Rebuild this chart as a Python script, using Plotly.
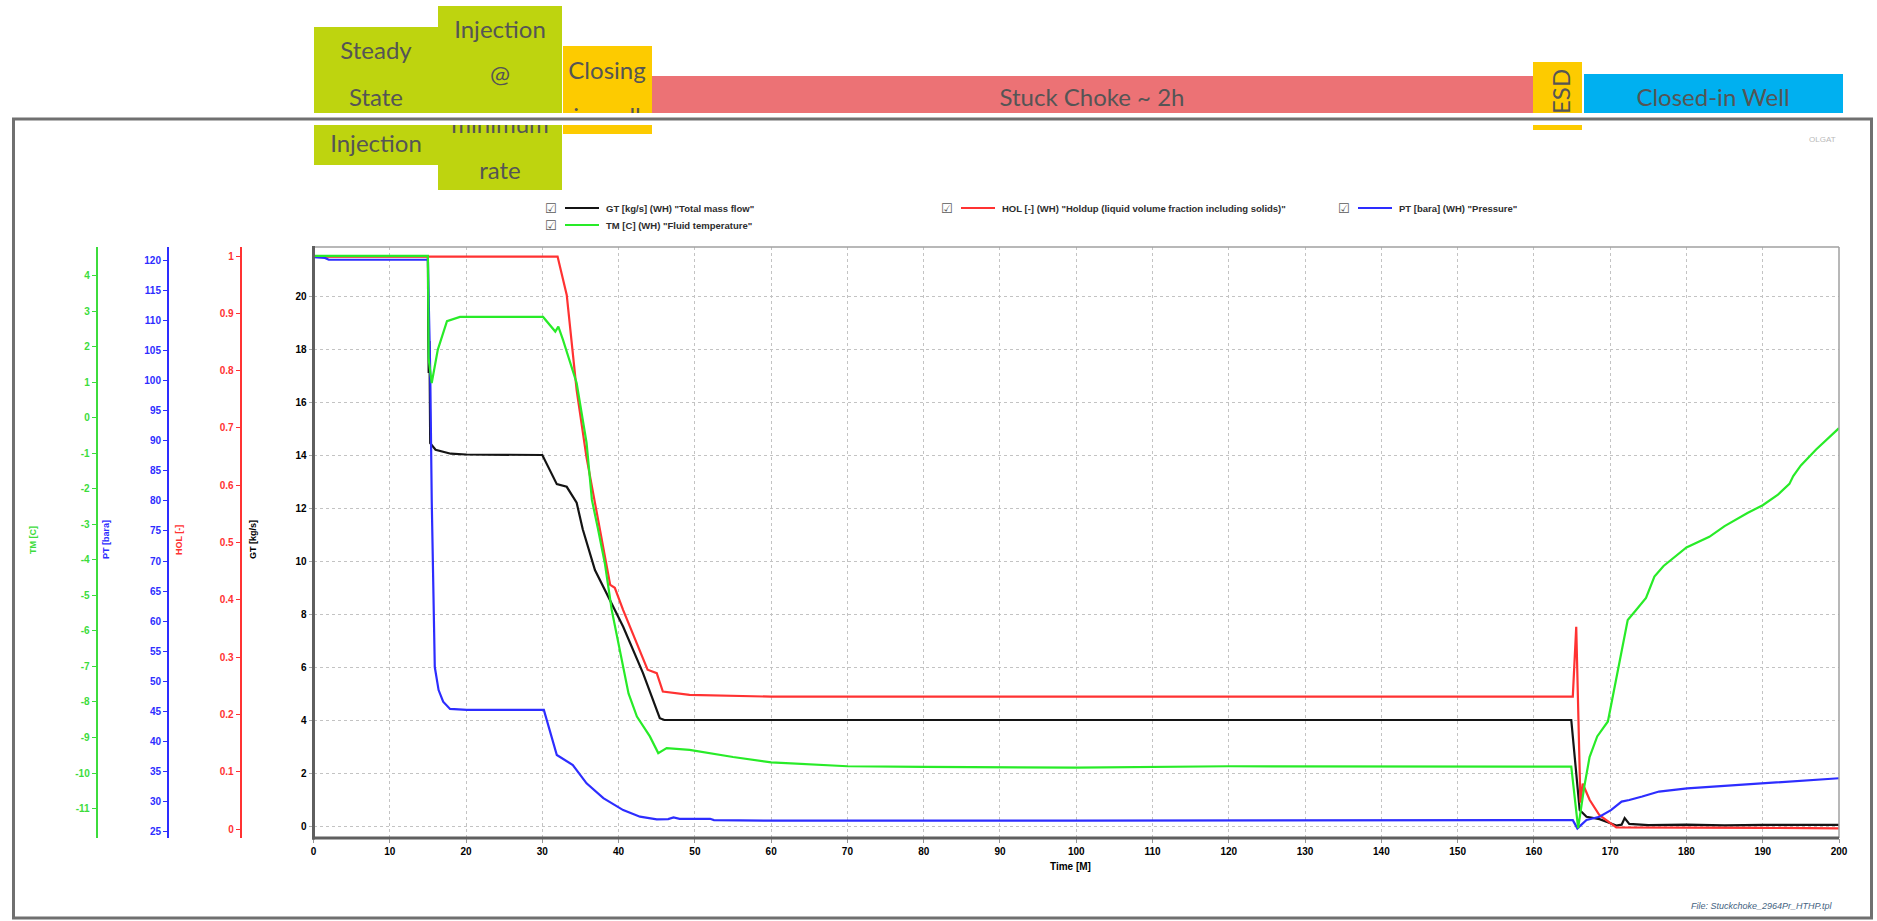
import plotly.graph_objects as go

W, H = 1877, 921

# ---------------- data ----------------
time_gt = [0, 15.0, 15.05, 15.1, 15.2, 15.3, 16, 18, 20, 25, 30, 31.9, 33.2, 34.5, 35.3, 36.9, 38.9, 40.6,
           43.2, 45.4, 46, 100, 164.9, 166.0, 166.9, 168.6, 170.8, 171.5, 171.9, 172.5, 175, 180, 185, 190, 195, 200]
gt_kgs = [21.5, 21.5, 18.5, 17.1, 18.3, 14.45, 14.2, 14.05, 14.02, 14.0, 14.0, 12.9, 12.8, 12.2, 11.2, 9.66, 8.53, 7.52,
          5.77, 4.07, 4.0, 4.0, 4.0, 0.6, 0.35, 0.26, 0.02, 0.05, 0.3, 0.08, 0.03, 0.05, 0.02, 0.04, 0.03, 0.04]

time_hol = [0, 32.0, 33.2, 34.5, 35.8, 37.3, 38.9, 39.5, 40.6, 43.8, 45.0, 45.8, 49.3, 60, 165.1, 165.55,
            166.1, 166.4, 167.3, 168.6, 170.8, 190, 200]
hol_frac = [0.999, 0.999, 0.932, 0.766, 0.648, 0.537, 0.426, 0.421, 0.382, 0.278, 0.272, 0.240, 0.234, 0.231,
            0.231, 0.353, 0.046, 0.079, 0.051, 0.024, 0.003, 0.002, 0.001]

time_pt = [0, 1.5, 2, 15.0, 15.05, 15.3, 15.5, 15.7, 15.9, 16.4, 17.0, 17.9, 20.1, 30.2, 31.9, 34.0, 35.8, 38.0,
           40.6, 42.8, 45.0, 46.5, 47.2, 48, 52, 52.5, 60, 100, 165.1, 165.7, 166.9, 168.6, 170.1, 171.5, 172.5,
           174.2, 176.4, 180.1, 190, 200]
pt_bara = [120.53, 120.39, 120.08, 120.08, 116.65, 101.68, 80.11, 63.51, 52.37, 48.54, 46.60, 45.41, 45.24, 45.24,
           37.75, 36.08, 33.04, 30.57, 28.59, 27.49, 27.05, 27.09, 27.36, 27.14, 27.14, 26.92, 26.83, 26.83, 26.92,
           25.55, 26.96, 27.49, 28.59, 30.0, 30.26, 30.84, 31.67, 32.20, 33.04, 33.88]

time_tm = [0, 15.0, 15.1, 15.5, 16.3, 17.5, 19.2, 30.1, 31.7, 32.1, 32.7, 34.5, 35.8, 36.5, 37.3, 38.2, 39.1, 39.9,
           40.6, 41.3, 42.4, 44.1, 45.2, 46.3, 49.3, 55, 60, 70, 80, 100, 120, 140, 164.9, 165.8, 166.6, 167.3,
           168.3, 169.7, 171.2, 172.3, 173.4, 174.7, 175.8, 177, 180, 183, 185, 188, 190, 192, 193.5, 194, 195,
           197, 200]
tm_c = [4.56, 4.56, 1.65, 0.98, 1.92, 2.72, 2.84, 2.84, 2.43, 2.57, 2.20, 0.98, -0.70, -2.31, -3.13, -4.10, -5.41,
        -6.26, -7.01, -7.76, -8.41, -8.97, -9.44, -9.30, -9.35, -9.55, -9.70, -9.81, -9.83, -9.85, -9.81, -9.81,
        -9.82, -11.55, -10.39, -9.55, -8.97, -8.55, -6.90, -5.69, -5.41, -5.07, -4.47, -4.17, -3.65, -3.35, -3.05,
        -2.68, -2.46, -2.16, -1.86, -1.64, -1.34, -0.89, -0.29]

x_ticks = list(range(0, 201, 10))
gt_ticks = list(range(0, 21, 2))
hol_ticks = [0, 0.1, 0.2, 0.3, 0.4, 0.5, 0.6, 0.7, 0.8, 0.9, 1]
hol_labels = ["0", "0.1", "0.2", "0.3", "0.4", "0.5", "0.6", "0.7", "0.8", "0.9", "1"]
pt_ticks = list(range(25, 121, 5))
tm_ticks = list(range(-11, 5))
tm_labels = [str(v) for v in tm_ticks]

phase_lines = [
    ("Steady", 376, 53), ("State", 376, 100), ("Injection", 376, 146),
    ("Injection", 500, 32), ("@", 500, 77), ("minimum", 500, 127), ("rate", 500, 173),
    ("Closing", 607, 73), ("in well", 607, 119),
    ("Stuck Choke ~ 2h", 1092, 100), ("Closed-in Well", 1713, 100),
]

legend_items = [
    ('GT [kg/s] (WH) "Total mass flow"', 'rgb(20,20,20)', 551, 208),
    ('TM [C] (WH) "Fluid temperature"', 'rgb(40,235,40)', 551, 225),
    ('HOL [-] (WH) "Holdup (liquid volume fraction including solids)"', 'rgb(255,50,50)', 947, 208),
    ('PT [bara] (WH) "Pressure"', 'rgb(45,45,255)', 1344, 208),
]

# ---------------- geometry (pixels) ----------------
PL, PR, PT_, PB = 313.5, 1839, 247, 838
C_BLACK = 'rgb(20,20,20)'
C_RED = 'rgb(255,50,50)'
C_BLUE = 'rgb(45,45,255)'
C_GREEN = 'rgb(40,235,40)'
C_GREEN_T = 'rgb(60,220,60)'

fig = go.Figure()

fig.add_trace(go.Scatter(x=time_gt, y=gt_kgs, mode='lines', line=dict(color=C_BLACK, width=2.2),
                         xaxis='x', yaxis='y', showlegend=False, hoverinfo='skip'))
fig.add_trace(go.Scatter(x=time_hol, y=hol_frac, mode='lines', line=dict(color=C_RED, width=2.2),
                         xaxis='x', yaxis='y2', showlegend=False, hoverinfo='skip'))
fig.add_trace(go.Scatter(x=time_pt, y=pt_bara, mode='lines', line=dict(color=C_BLUE, width=2.2),
                         xaxis='x', yaxis='y3', showlegend=False, hoverinfo='skip'))
fig.add_trace(go.Scatter(x=time_tm, y=tm_c, mode='lines', line=dict(color=C_GREEN, width=2.2),
                         xaxis='x', yaxis='y4', showlegend=False, hoverinfo='skip'))

# phase box texts on a full-canvas pixel overlay
fig.add_trace(go.Scatter(x=[p[1] for p in phase_lines], y=[p[2] for p in phase_lines],
                         text=[p[0] for p in phase_lines], mode='text', textposition='middle center',
                         textfont=dict(family='Lato', size=24, color='rgb(85,85,85)'),
                         xaxis='x2', yaxis='y5', showlegend=False, hoverinfo='skip', cliponaxis=False))

tickfont = dict(family='Liberation Sans, Arial', size=10, weight='bold')

xdom = [PL / W, PR / W]
ydom = [1 - PB / H, 1 - PT_ / H]

def side_axis(pos, rng, color, tvals, ttext=None):
    d = dict(overlaying='y', anchor='free', position=pos, side='left', range=rng,
             showline=True, linecolor=color, linewidth=2, ticks='outside', ticklen=4, tickcolor=color,
             tickwidth=1, tickfont=dict(tickfont, color=color), showgrid=False, zeroline=False,
             tickvals=tvals, fixedrange=True, automargin=False)
    if ttext is not None:
        d['ticktext'] = ttext
    return d

fig.update_layout(
    width=W, height=H,
    margin=dict(l=0, r=0, t=0, b=0),
    paper_bgcolor='white', plot_bgcolor='rgba(0,0,0,0)',
    showlegend=False,
    xaxis=dict(domain=xdom, range=[0, 200], tickvals=x_ticks, anchor='y',
               showgrid=True, gridcolor='rgb(195,195,195)', griddash='dot', gridwidth=1,
               ticks='outside', ticklen=4, tickcolor='rgb(150,150,150)', tickfont=dict(tickfont, color='black'),
               showline=False, zeroline=False, fixedrange=True, automargin=False),
    yaxis=dict(domain=ydom, range=[-0.453, 21.85], tickvals=gt_ticks, anchor='x',
               showgrid=True, gridcolor='rgb(195,195,195)', griddash='dot', gridwidth=1,
               ticks='outside', ticklen=4, tickcolor='rgb(170,170,170)', tickfont=dict(tickfont, color='black'),
               showline=False, zeroline=False, fixedrange=True, automargin=False),
    yaxis2=side_axis(240.7 / W, [-0.0157, 1.0157], C_RED, hol_ticks, hol_labels),
    yaxis3=side_axis(168 / W, [23.95, 122.2], C_BLUE, pt_ticks),
    yaxis4=side_axis(96.7 / W, [-11.83, 4.81], C_GREEN_T, tm_ticks, tm_labels),
    xaxis2=dict(domain=[0, 1], range=[0, W], anchor='y5', visible=False, fixedrange=True),
    yaxis5=dict(domain=[0, 1], range=[H, 0], anchor='x2', visible=False, fixedrange=True),
)

shapes = []

def rect(x0, y0, x1, y1, fill, layer='below'):
    shapes.append(dict(type='rect', xref='x2', yref='y5', x0=x0, y0=y0, x1=x1, y1=y1,
                       fillcolor=fill, line=dict(width=0), layer=layer))

def line(x0, y0, x1, y1, color, width, layer='above'):
    shapes.append(dict(type='line', xref='x2', yref='y5', x0=x0, y0=y0, x1=x1, y1=y1,
                       line=dict(color=color, width=width), layer=layer))

LIME = 'rgb(190,212,15)'
YELLOW = 'rgb(253,203,0)'
ROSE = 'rgb(236,114,117)'
SKY = 'rgb(0,176,240)'

# phase boxes
rect(314, 27, 438, 165, LIME)
rect(438, 6, 562, 190, LIME)
rect(563, 46, 652, 134, YELLOW)
rect(652, 76, 1534, 114, ROSE)
rect(1533, 62, 1582, 130, YELLOW)
rect(1584, 74, 1843, 114, SKY)

# white band + outer frame
rect(0, 113, W, 125, 'white', layer='above')
FRAME = 'rgb(112,112,112)'
line(12, 119, 1873, 119, FRAME, 3)
line(13.5, 118, 13.5, 919, FRAME, 3)
line(1871.5, 118, 1871.5, 919, FRAME, 3)
line(12, 918, 1873, 918, FRAME, 3)

# plot area border
line(PL, PT_, PR, PT_, 'rgb(160,160,160)', 1.5)
line(PR, PT_, PR, PB, 'rgb(160,160,160)', 1.5)
line(PL, PT_ - 1, PL, PB + 1.5, 'rgb(95,95,95)', 3)
line(PL - 1.5, PB, PR, PB, 'rgb(95,95,95)', 3)

annotations = []

def text(x, y, s, size=9, color='rgb(50,50,50)', xanchor='center', angle=0, family='Liberation Sans, Arial',
         weight='bold', italic=False):
    annotations.append(dict(xref='x2', yref='y5', x=x, y=y, text=s, showarrow=False, xanchor=xanchor,
                            yanchor='middle', textangle=angle,
                            font=dict(family=family, size=size, color=color, weight=weight,
                                      style='italic' if italic else 'normal')))

# legend (manual)
for label, col, cx, cy in legend_items:
    text(cx, cy, '☑', size=13, color='rgb(90,90,90)', family='DejaVu Sans', weight='normal')
    line(cx + 14, cy, cx + 48, cy, col, 2)
    text(cx + 53, cy, label, size=9.5, color='rgb(45,45,45)', xanchor='left')

# axis titles
text(33, 540, 'TM [C]', size=9, color=C_GREEN_T, angle=-90)
text(106, 540, 'PT [bara]', size=9, color=C_BLUE, angle=-90)
text(179, 540, 'HOL [-]', size=9, color=C_RED, angle=-90)
text(253, 540, 'GT [kg/s]', size=9, color='black', angle=-90)
text(1070, 866, 'Time [M]', size=10, color='black')

# ESD (rotated)
text(1560, 92, 'ESD', size=24, color='rgb(85,85,85)', angle=-90, family='Lato', weight='normal')

# small labels
text(1822, 139, 'OLGAT', size=8, color='rgb(185,185,185)', weight='normal')
text(1834, 906, 'File: Stuckchoke_2964Pr_HTHP.tpl', size=9, color='rgb(70,100,130)', xanchor='right',
     weight='normal', italic=True)

fig.update_layout(shapes=shapes, annotations=annotations)

fig.write_html("out.html")
